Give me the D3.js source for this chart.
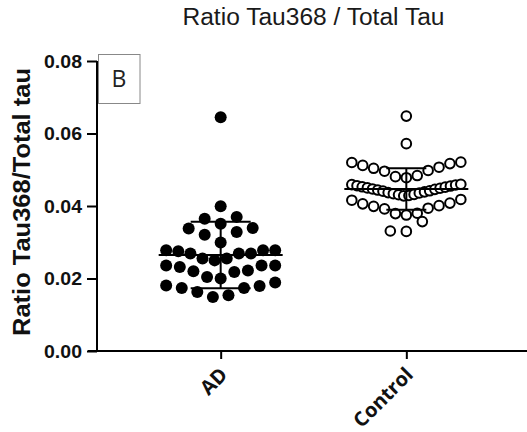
<!DOCTYPE html>
<html>
<head>
<meta charset="utf-8">
<script src="https://cdn.jsdelivr.net/npm/d3@7"></script>
<style>
  html, body { margin: 0; padding: 0; background: #fff; }
  svg { display: block; }
</style>
</head>
<body>
<svg id="chart" width="527" height="432"></svg>
<script>
// Group names and per-subject ratio values
const groups = ["AD", "Control"];
const adValues = [
  0.0149, 0.0154, 0.0163, 0.0174, 0.0174, 0.0179, 0.0181, 0.0189,
  0.0200, 0.0204, 0.0218, 0.0220, 0.0222, 0.0232, 0.0236, 0.0236, 0.0236,
  0.0250, 0.0255, 0.0255, 0.0269, 0.0269, 0.0269, 0.0275, 0.0278, 0.0278, 0.0278,
  0.0299, 0.0321, 0.0328, 0.0338, 0.0339,
  0.0351, 0.0365, 0.0370,
  0.0399,
  0.0645
];
const controlValues = [
  0.0330, 0.0331, 0.0357,
  0.0375, 0.0379, 0.0380, 0.0392, 0.0394, 0.0399, 0.0401, 0.0406, 0.0408, 0.0416, 0.0418,
  0.0428, 0.0429, 0.0431, 0.0432, 0.0434, 0.0436, 0.0437, 0.0439, 0.0441, 0.0442, 0.0444,
  0.0446, 0.0447, 0.0449, 0.0450, 0.0452, 0.0453, 0.0455, 0.0456, 0.0458, 0.0459, 0.0460,
  0.0478, 0.0481, 0.0484, 0.0496, 0.0498, 0.0504, 0.0507, 0.0512, 0.0517, 0.0520, 0.0521,
  0.0572,
  0.0648
];
const yTicks = [0, 0.02, 0.04, 0.06, 0.08];
const titleText = "Ratio Tau368 / Total Tau";
const yLabelText = "Ratio Tau368/Total tau";
const panelLetter = "B";

const seriesByGroup = { AD: adValues, Control: controlValues };

const W = 527, H = 432;
const margin = { top: 61, right: 0, bottom: 81, left: 97 };
const svg = d3.select("#chart");

const y = d3.scaleLinear().domain([0, 0.08]).range([H - margin.bottom, margin.top]);
const x = d3.scalePoint().domain(groups).range([100, W]).padding(0.65);

// Scatter-dot layout: values are grouped into rows of similar height,
// and each row is spread horizontally from the centre outward.
function rowLayout(values, binH, rowWidth, maxGap) {
  const sorted = values.slice().sort(d3.ascending);
  const out = [];
  let i = 0;
  while (i < sorted.length) {
    const start = sorted[i];
    const row = [];
    while (i < sorted.length && sorted[i] < start + binH - 1e-9) row.push(sorted[i++]);
    const n = row.length;
    const gap = n > 1 ? Math.min(maxGap, rowWidth / (n - 1)) : 0;
    row.forEach((v, k) => {
      let slot;
      if (n % 2 === 1) {
        slot = k === 0 ? 0 : (k % 2 === 1 ? -Math.ceil(k / 2) : Math.ceil(k / 2));
      } else {
        const m = Math.floor(k / 2) + 0.5;
        slot = k % 2 === 0 ? -m : m;
      }
      out.push({ value: v, offset: slot * gap });
    });
  }
  return out;
}

const style = {
  AD: { fill: "#000", stroke: "#000", r: 6, sw: 0, cap: 30 },
  Control: { fill: "#fff", stroke: "#000", r: 4.8, sw: 2, cap: 20 }
};

// Axes
const yAxis = d3.axisLeft(y).tickValues(yTicks).tickFormat(d3.format(".2f")).tickSize(10).tickPadding(5);
const gy = svg.append("g").attr("transform", `translate(${margin.left},0)`).call(yAxis);
gy.select(".domain").attr("stroke", "#000").attr("stroke-width", 2).attr("d", `M0,${y(0.08)}V${y(0)}`);
gy.selectAll(".tick line").attr("stroke", "#000").attr("stroke-width", 2);
gy.selectAll(".tick text")
  .attr("fill", "#111")
  .style("font-family", "'Liberation Sans', Arial, sans-serif")
  .style("font-weight", "bold")
  .style("font-size", "19px")
  .attr("textLength", 38)
  .attr("lengthAdjust", "spacingAndGlyphs");

const xAxis = d3.axisBottom(x).tickSize(8).tickFormat("");
const gx = svg.append("g").attr("transform", `translate(0,${y(0)})`).call(xAxis);
gx.select(".domain").attr("stroke", "#000").attr("stroke-width", 2).attr("d", `M${margin.left - 9},0H${W}`);
gx.selectAll(".tick line").attr("stroke", "#000").attr("stroke-width", 2);

// Rotated category labels
svg.append("g").selectAll("text")
  .data(groups)
  .join("text")
  .attr("transform", d => `translate(${x(d) + 8},${y(0) + 25}) rotate(-45)`)
  .attr("text-anchor", "end")
  .attr("fill", "#111")
  .style("font-family", "'Open Sans', sans-serif")
  .style("font-weight", "bold")
  .style("font-size", "20px")
  .text(d => d);

// Points
groups.forEach(g => {
  const s = style[g];
  const pts = rowLayout(seriesByGroup[g], 0.0044, 109, 16)
    .map(p => ({ cx: x(g) + p.offset, cy: y(p.value) }))
    .sort((a, b) => a.cx - b.cx);
  svg.append("g").selectAll("circle")
    .data(pts)
    .join("circle")
    .attr("cx", d => d.cx)
    .attr("cy", d => d.cy)
    .attr("r", s.r)
    .attr("fill", s.fill)
    .attr("stroke", s.stroke)
    .attr("stroke-width", s.sw);
});

// Mean line with ±SD whiskers
groups.forEach(g => {
  const vals = seriesByGroup[g];
  const m = d3.mean(vals), sd = d3.deviation(vals);
  const cx = x(g), cap = style[g].cap;
  const bar = svg.append("g").attr("stroke", "#000").attr("stroke-width", 2).attr("fill", "none");
  bar.append("line").attr("x1", cx - 62).attr("x2", cx + 62).attr("y1", y(m)).attr("y2", y(m));
  bar.append("line").attr("x1", cx).attr("x2", cx).attr("y1", y(m - sd)).attr("y2", y(m + sd));
  bar.append("line").attr("x1", cx - cap).attr("x2", cx + cap).attr("y1", y(m + sd)).attr("y2", y(m + sd));
  bar.append("line").attr("x1", cx - cap).attr("x2", cx + cap).attr("y1", y(m - sd)).attr("y2", y(m - sd));
});

// Y axis title
svg.append("text")
  .attr("transform", `translate(30,202) rotate(-90)`)
  .attr("text-anchor", "middle")
  .attr("fill", "#111")
  .style("font-family", "'Liberation Sans', Arial, sans-serif")
  .style("font-weight", "bold")
  .style("font-size", "23px")
  .attr("textLength", 268)
  .attr("lengthAdjust", "spacingAndGlyphs")
  .text(yLabelText);

// Chart title
svg.append("text")
  .attr("x", 313.5)
  .attr("y", 25)
  .attr("text-anchor", "middle")
  .attr("fill", "#1a1a1a")
  .style("font-family", "'Liberation Sans', Arial, sans-serif")
  .style("font-size", "23px")
  .attr("textLength", 262)
  .attr("lengthAdjust", "spacingAndGlyphs")
  .text(titleText);

// Panel letter box
const panel = svg.append("g");
panel.append("rect")
  .attr("x", 98.5).attr("y", 54.5).attr("width", 41.5).attr("height", 49)
  .attr("fill", "#fff").attr("stroke", "#888").attr("stroke-width", 1);
panel.append("text")
  .attr("x", 119).attr("y", 87)
  .attr("text-anchor", "middle")
  .attr("fill", "#222")
  .style("font-family", "'Open Sans', sans-serif")
  .style("font-size", "23px")
  .text(panelLetter);
</script>
</body>
</html>
